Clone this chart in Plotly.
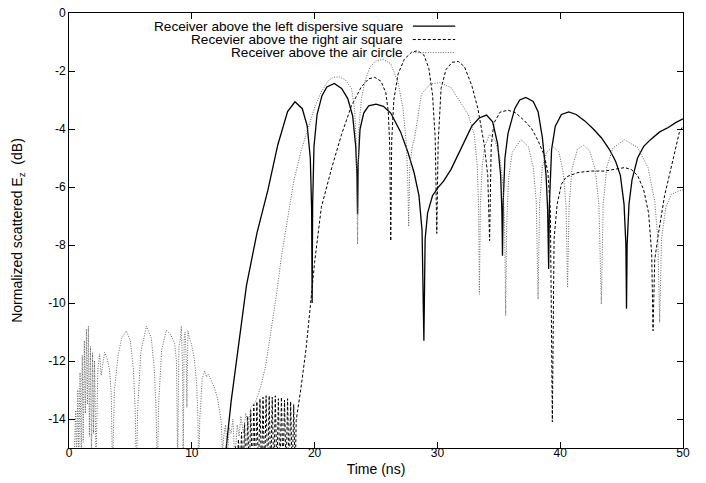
import plotly.graph_objects as go

# ---------------- data ----------------
time_ticks = [0, 10, 20, 30, 40, 50]
db_ticks = [0, -2, -4, -6, -8, -10, -12, -14]
db_tick_labels = ["0", "-2", "-4", "-6", "-8", "-10", "-12", "-14"]

names = ["Receiver above the left dispersive square",
         "Recevier above the right air square",
         "Receiver above the air circle"]

# Receiver above the left dispersive square (solid)
solid_t = [12.5, 12.8, 13.2, 13.7, 14.45, 15.3, 16.2, 17.0, 17.8, 18.4, 19.0, 19.4, 19.65, 19.76, 19.8,
           19.84, 19.95, 20.2, 20.6, 21.0, 21.6, 22.2, 22.7, 23.1, 23.35, 23.45, 23.5, 23.55, 23.7, 24.0,
           24.4, 25.0, 25.6, 26.2, 27.0, 27.6, 28.1, 28.5, 28.75, 28.9, 29.0, 29.2, 29.6, 30.05, 30.5,
           31.1, 31.7, 32.2, 32.8, 33.4, 34.0, 34.5, 34.9, 35.15, 35.25, 35.3, 35.36, 35.5, 35.75, 36.3,
           36.7, 37.2, 37.8, 38.2, 38.55, 38.85, 38.98, 39.06, 39.12, 39.3, 39.6, 40.1, 40.7, 41.3, 42.0,
           42.7, 43.35, 44.0, 44.5, 44.9, 45.2, 45.35, 45.4, 45.45, 45.6, 45.85, 46.3, 46.8, 47.4, 48.1,
           48.8, 49.4, 50.0]
solid_db = [-16.5, -15.0, -13.4, -11.8, -9.4, -7.6, -6.1, -4.55, -3.4, -3.06, -3.3, -3.9, -5.0, -6.8, -10.0,
            -6.6, -4.6, -3.5, -2.85, -2.55, -2.43, -2.6, -2.95, -3.55, -4.6, -5.6, -6.94, -5.2, -4.0, -3.45,
            -3.2, -3.14, -3.22, -3.45, -4.1, -4.8, -5.5, -6.3, -7.5, -11.3, -7.8, -6.9, -6.3, -6.02, -5.8,
            -5.4, -4.85, -4.4, -3.9, -3.62, -3.52, -3.75, -4.5, -5.6, -6.8, -8.37, -6.5, -5.0, -4.15, -3.3,
            -3.0, -2.91, -3.05, -3.4, -4.3, -5.6, -6.8, -8.83, -6.6, -4.7, -3.9, -3.5, -3.41, -3.5, -3.72,
            -4.0, -4.3, -4.7, -5.1, -5.6, -6.6, -8.0, -10.2, -8.0, -6.6, -5.75, -5.0, -4.6, -4.35, -4.1,
            -3.95, -3.78, -3.65]

# Recevier above the right air square (dashed)
dashed_t = [13.45, 13.55, 13.65, 13.8, 13.93, 14.05, 14.18, 14.3, 14.43, 14.55, 14.68, 14.8, 14.93, 15.05,
            15.18, 15.3, 15.43, 15.55, 15.68, 15.8, 15.93, 16.05, 16.18, 16.3, 16.43, 16.55, 16.68, 16.8,
            16.93, 17.05, 17.18, 17.3, 17.43, 17.55, 17.68, 17.8, 17.93, 18.05, 18.18, 18.3, 18.42,
            18.5, 18.9, 19.3, 19.7, 20.0, 20.55, 21.4, 22.2, 23.0, 23.8, 24.4, 24.9, 25.4, 25.8, 26.0,
            26.12, 26.2, 26.28, 26.45, 26.8, 27.3, 27.9, 28.4, 28.9, 29.3, 29.6, 29.82, 29.95, 30.06, 30.3,
            30.7, 31.2, 31.7, 32.2, 32.8, 33.3, 33.8, 34.1, 34.25, 34.38, 34.6, 35.1, 35.75, 36.4, 37.1,
            37.7, 38.2, 38.7, 39.0, 39.2, 39.36, 39.5, 39.75, 40.1, 40.5, 41.45, 42.5, 43.6, 44.5, 45.25,
            45.8, 46.3, 46.8, 47.2, 47.45, 47.56, 47.7, 48.0, 48.5, 49.05, 49.7, 50.0]
dashed_db = [-16.0, -14.95, -16.0, -14.7, -16.0, -14.45, -16.0, -14.15, -16.0, -13.9, -16.0, -13.7, -16.0, -13.5,
             -16.0, -13.4, -16.0, -13.3, -16.0, -13.25, -16.0, -13.2, -16.0, -13.2, -16.0, -13.25, -16.0, -13.2,
             -16.0, -13.3, -16.0, -13.25, -16.0, -13.35, -16.0, -13.3, -16.0, -13.4, -16.0, -13.5, -16.0,
             -14.05, -12.9, -11.6, -9.9, -8.6, -6.7, -5.33, -4.18, -3.2, -2.55, -2.27, -2.22, -2.35, -2.75, -3.4,
             -4.6, -7.86, -4.4, -3.0, -2.1, -1.6, -1.35, -1.3, -1.45, -1.9, -2.8, -4.3, -7.6, -4.5, -2.6,
             -1.95, -1.7, -1.67, -1.85, -2.5, -3.3, -4.5, -5.6, -7.85, -4.6, -3.8, -3.42, -3.35, -3.45, -3.72,
             -4.0, -4.41, -4.9, -5.5, -6.8, -14.1, -7.8, -6.6, -5.9, -5.65, -5.5, -5.45, -5.45, -5.38, -5.33,
             -5.4, -5.6, -6.1, -6.9, -8.3, -10.96, -8.5, -7.6, -6.3, -5.33, -4.12, -3.9]

# Receiver above the air circle (dotted)
dotted_t = [0.3, 0.45, 0.55, 0.62, 0.72, 0.8, 0.9, 1.0, 1.08, 1.16, 1.25, 1.33, 1.42, 1.5, 1.58, 1.66,
            1.75, 1.83, 1.92, 2.0, 2.08, 2.2, 2.35, 2.5, 2.62, 2.78, 2.9, 3.1, 3.3, 3.45, 3.53, 3.7, 4.0,
            4.3, 4.67, 5.0, 5.25, 5.4, 5.48, 5.6, 5.85, 6.3, 6.7, 6.95, 7.1, 7.19, 7.3, 7.55, 7.93, 8.3,
            8.6, 8.75, 8.85, 8.95, 9.05, 9.15, 9.25, 9.3, 9.38, 9.45, 9.55, 9.6, 9.69, 9.8, 9.96, 10.2,
            10.4, 10.5, 10.56, 10.65, 10.85, 11.05, 11.2, 11.35, 11.6, 11.87, 12.1, 12.27, 12.4, 12.5,
            12.6, 12.75, 12.9, 13.05, 13.2, 13.35, 13.5, 13.7, 13.85, 14.0, 14.2, 14.4, 14.6, 14.8, 15.2,
            15.6, 16.0, 16.4, 16.9, 17.3, 17.8, 18.3, 18.9, 19.5, 20.0, 20.5, 21.1, 21.5, 22.0, 22.5, 23.0,
            23.25, 23.4, 23.5, 23.6, 23.8, 24.1, 24.5, 25.0, 25.6, 26.2, 26.8, 27.2, 27.45, 27.58, 27.66,
            27.75, 27.95, 28.15, 28.7, 29.4, 30.2, 31.1, 32.5, 33.0, 33.25, 33.36, 33.42, 33.5, 33.65,
            33.85, 34.25, 34.7, 35.1, 35.35, 35.48, 35.56, 35.64, 35.8, 36.1, 36.8, 37.4, 37.8, 38.05,
            38.2, 38.32, 38.55, 38.9, 39.4, 39.9, 40.25, 40.48, 40.6, 40.72, 40.95, 41.4, 41.9, 42.4,
            42.85, 43.15, 43.35, 43.5, 43.8, 44.3, 45.25, 46.3, 47.15, 47.7, 47.95, 48.1, 48.25, 48.6,
            49.05, 49.7, 50.0]
dotted_db = [-16.0, -15.0, -13.7, -15.5, -13.0, -15.5, -12.4, -15.5, -11.8, -14.8, -11.3, -13.8, -10.9, -13.5,
             -10.8, -14.6, -11.5, -15.5, -11.7, -14.5, -12.0, -15.5, -12.3, -11.75, -12.5, -12.0, -11.7, -11.9,
             -12.3, -13.2, -16.0, -13.0, -11.8, -11.2, -10.96, -11.3, -12.3, -13.8, -16.0, -13.6, -11.7, -10.8,
             -11.2, -12.3, -13.8, -16.0, -13.5, -11.6, -10.94, -11.1, -11.4, -12.0, -15.5, -11.5, -11.3, -10.8,
             -12.3, -15.5, -11.2, -11.0, -12.0, -13.6, -10.96, -11.2, -11.4, -11.9, -12.8, -14.0, -16.0, -14.0,
             -12.6, -12.35, -12.55, -12.45, -12.7, -12.95, -13.3, -13.7, -14.1, -15.2, -14.6, -14.2, -15.3,
             -14.3, -14.5, -14.0, -15.5, -14.2, -14.6, -13.9, -14.5, -13.8, -14.3, -13.6, -13.4, -12.9, -12.2,
             -11.1, -9.7, -8.4, -7.05, -5.8, -4.75, -3.9, -3.26, -2.75, -2.34, -2.22, -2.2, -2.3, -2.6, -3.3,
             -4.5, -7.97, -4.0, -3.0, -2.35, -1.88, -1.65, -1.6, -1.75, -2.4, -3.3, -4.4, -5.6, -7.36, -5.3,
             -4.6, -4.3, -2.8, -2.45, -2.4, -2.57, -3.49, -4.2, -5.3, -6.8, -9.7, -6.6, -5.3, -4.6, -4.18,
             -4.4, -5.0, -6.0, -7.4, -10.44, -7.3, -5.7, -4.8, -4.37, -4.6, -5.3, -6.5, -9.87, -6.6, -5.3,
             -4.8, -4.6, -4.8, -5.5, -6.7, -9.47, -6.7, -5.4, -4.7, -4.56, -4.75, -5.4, -6.6, -10.04, -6.6,
             -5.3, -4.65, -4.37, -4.64, -5.33, -6.5, -7.8, -10.67, -7.8, -6.7, -6.25, -6.13, -6.1]

# ---------------- styles ----------------
FONT = "Liberation Sans, Arial, Helvetica, sans-serif"
styles = [dict(color="black", width=1.3, dash="solid"),
          dict(color="black", width=1.0, dash="3px,2px"),
          dict(color="#666666", width=1.0, dash="1px,1.5px")]

fig = go.Figure()
for xs, ys, nm, st in zip([solid_t, dashed_t, dotted_t], [solid_db, dashed_db, dotted_db], names, styles):
    fig.add_trace(go.Scatter(x=xs, y=ys, mode="lines", name=nm, line=st, showlegend=False))

# key (text right-aligned, sample line to the right, as in the reference)
key_y = [0.970, 0.939, 0.909]
for nm, st, yy in zip(names, styles, key_y):
    fig.add_annotation(x=0.547, y=yy, xref="paper", yref="paper", text=nm, showarrow=False,
                       xanchor="right", yanchor="middle", font=dict(family=FONT, size=13.6, color="black"))
    fig.add_shape(type="line", xref="paper", yref="paper", x0=0.56, x1=0.629, y0=yy, y1=yy, line=st)

fig.update_layout(
    width=706, height=483,
    margin=dict(l=61, r=31, t=5, b=43),
    paper_bgcolor="white", plot_bgcolor="white",
    font=dict(family=FONT, size=12, color="black"),
    showlegend=False,
)
fig.update_xaxes(range=[0, 50], tickvals=time_ticks, ticks="inside", ticklen=6, tickcolor="black",
                 showline=True, linecolor="black", linewidth=1, mirror="ticks", showgrid=False, zeroline=False,
                 ticklabelstandoff=-6, automargin=False,
                 title=dict(text="Time (ns)", standoff=4))
fig.update_yaxes(range=[-15, 0], tickvals=db_ticks, ticktext=db_tick_labels, ticks="inside", ticklen=6,
                 tickcolor="black", showline=True, linecolor="black", linewidth=1, mirror="ticks",
                 showgrid=False, zeroline=False, ticklabeloverflow="allow", automargin=False,
                 title=dict(text="Normalized scattered E<sub>z</sub>  (dB)", standoff=22))

fig.write_html("out.html")
